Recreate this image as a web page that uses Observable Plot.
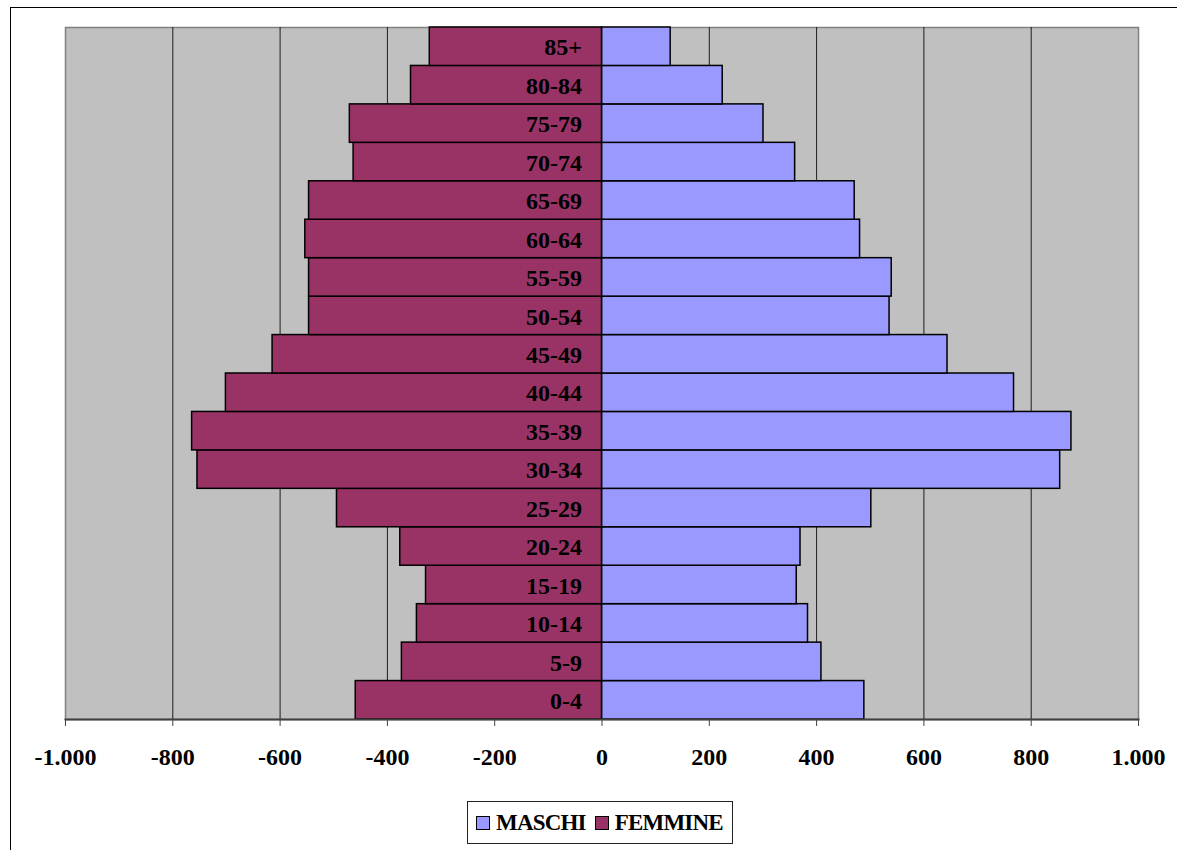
<!DOCTYPE html>
<html>
<head>
<meta charset="utf-8">
<script src="https://cdn.jsdelivr.net/npm/d3@7"></script>
<script src="https://cdn.jsdelivr.net/npm/@observablehq/plot@0.6"></script>
<style>
  html, body { margin: 0; padding: 0; background: #fff; }
  body { width: 1177px; height: 850px; position: relative; overflow: hidden;
         font-family: "Liberation Serif", "Times New Roman", serif; }
  #outer { position: absolute; left: 10px; top: 7px; width: 1300px; height: 1000px;
           border-left: 1.5px solid #000; border-top: 1.5px solid #000; }
  #chart { position: absolute; left: 0; top: 0; }
  #legend { position: absolute; left: 467px; top: 801px; width: 266px; height: 43px;
            box-sizing: border-box; border: 1px solid #222; background: #fff;
            display: flex; align-items: center; padding-left: 8px;
            font: bold 23px "Liberation Serif", "Times New Roman", serif; letter-spacing: -0.8px; }
  .sw { display: inline-block; width: 12px; height: 12px; border: 1.5px solid #000; margin-right: 6px; }
  .item { display: flex; align-items: center; margin-right: 9px; }
</style>
</head>
<body>
<div id="outer"></div>
<div id="chart"></div>
<div id="legend"></div>
<script>
const ages = ["0-4","5-9","10-14","15-19","20-24","25-29","30-34","35-39","40-44","45-49","50-54","55-59","60-64","65-69","70-74","75-79","80-84","85+"];
const maschi = [489, 409, 384, 363, 370, 502, 854, 875, 768, 644, 536, 540, 481, 471, 360, 301, 225, 128];
const femmine = [459, 373, 345, 328, 376, 494, 754, 764, 701, 614, 546, 546, 553, 546, 463, 470, 356, 321];
const xTicks = [-1000, -800, -600, -400, -200, 0, 200, 400, 600, 800, 1000];
const gridTicks = [-800, -600, -400, -200, 200, 400, 600, 800];
const seriesNames = ["MASCHI", "FEMMINE"];
const seriesColors = ["#9999FF", "#993366"];

const rows = [];
ages.forEach((a, i) => {
  rows.push({age: a, sex: "MASCHI", value: maschi[i]});
  rows.push({age: a, sex: "FEMMINE", value: -femmine[i]});
});

const fmt = v => d3.format(",")(v).replace(/,/g, ".").replace("−", "-");
const font = "bold 24px 'Liberation Serif', 'Times New Roman', serif";

const plot = Plot.plot({
  width: 1177,
  height: 790,
  marginLeft: 65,
  marginRight: 39,
  marginTop: 27,
  marginBottom: 71,
  style: {background: "transparent", fontFamily: "'Liberation Serif', 'Times New Roman', serif"},
  x: {domain: [-1000, 1000], ticks: xTicks},
  y: {domain: [...ages].reverse(), padding: 0, round: false, axis: null},
  color: {domain: seriesNames, range: seriesColors},
  marks: [
    Plot.frame({fill: "#C0C0C0", stroke: "#808080", strokeWidth: 1.5}),
    Plot.ruleX(gridTicks, {stroke: "#000", strokeWidth: 1, strokeOpacity: 0.85}),
    Plot.barX(rows, {x: "value", y: "age", fill: d => d.sex, stroke: "#000", strokeWidth: 1.5}),
    Plot.text(ages, {x: () => 0, y: d => d, text: d => d, textAnchor: "end", dx: -20, dy: 1,
      fill: "#000", fontSize: 24, fontWeight: "bold"}),
    Plot.frame({anchor: "bottom", stroke: "#404040", strokeWidth: 2}),
    Plot.axisX({ticks: xTicks, tickFormat: fmt, tickSize: 7, tickPadding: 21, stroke: "#404040",
      fontSize: 24, fontWeight: "bold", fill: "#000", label: null})
  ]
});
document.getElementById("chart").appendChild(plot);
plot.querySelectorAll("g[aria-label='x-axis tick label'] text").forEach(t => {
  t.style.font = font;
});

const legend = document.getElementById("legend");
seriesNames.forEach((n, i) => {
  const it = document.createElement("span");
  it.className = "item";
  const sw = document.createElement("span");
  sw.className = "sw";
  sw.style.background = seriesColors[i];
  it.appendChild(sw);
  it.appendChild(document.createTextNode(n));
  legend.appendChild(it);
});
</script>
</body>
</html>
